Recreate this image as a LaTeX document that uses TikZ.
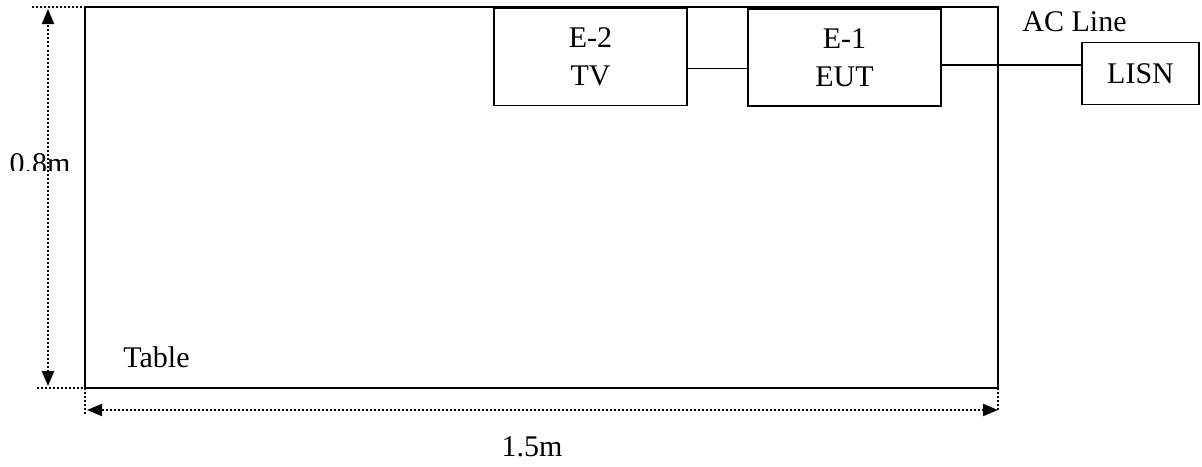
\documentclass[tikz,border=0pt]{standalone}
\usepackage{fontspec}
\setmainfont{Liberation Serif}
\usetikzlibrary{arrows.meta}
\begin{document}
\begin{tikzpicture}[x=0.5pt, y=-0.5pt,
        every node/.style={font=\fontsize{15}{19}\selectfont, inner sep=0pt},
        unit/.style={draw, line width=0.6pt, minimum width=96.5pt, minimum height=48.5pt, align=center},
        wire/.style={line width=0.6pt},
        dim/.style={line width=1pt, dash pattern=on 1pt off 1pt},
        dimarrow/.style={dim, {Triangle[length=7.5pt,width=6pt]}-{Triangle[length=7.5pt,width=6pt]}}]
        \useasboundingbox (0,0) rectangle (1202,466);

        % table
        \coordinate (tl) at (85,7);
        \coordinate (br) at (998,388);
        \draw[line width=0.8pt] (tl) rectangle (br);
        \node[anchor=base west] (table) at (123,367) {Table};

        % units on the table
        \node[style=unit] (e2) at (590.5,57) {E-2\\TV};
        \node[style=unit] (e1) at (844.5,57.5) {E-1\\EUT};
        \node[style=unit, minimum width=58.5pt, minimum height=31pt] (lisn) at (1140.5,73.5) {LISN};
        \node[anchor=base west] (acline) at (1022,31) {AC Line};

        \draw[style=wire] ([yshift=-5.75pt]e2.east) -- ([yshift=-5.75pt]e2.east -| e1.west);
        \draw[style=wire] ([yshift=-3.75pt]e1.east) -- ([yshift=-3.75pt]e1.east -| lisn.west);

        % dimensions
        \coordinate (vtop) at (32,7);
        \coordinate (vbot) at (37,388);
        \coordinate (bl) at (tl |- br);
        \coordinate (ht) at (48,9);
        \coordinate (hb) at (48,386);
        \coordinate (wl) at (87,410);
        \coordinate (wr) at (998,410);
        \draw[style=dim] (vtop) -- (tl);
        \draw[style=dim] (vbot) -- (bl);
        \draw[style=dim] (bl) -- (85,414);
        \draw[style=dim] (br) -- (wr);
        \draw[style=dimarrow] (hb) -- (ht);
        \draw[style=dimarrow] (wl) -- (wr);
        \begin{scope}
            \clip (0,140) rectangle (84,170);
            \node[anchor=base] (hgt) at (40,173) {0.8m};
        \end{scope}
        \node[anchor=base] (wid) at (532,456) {1.5m};
    \end{tikzpicture}
\end{document}
